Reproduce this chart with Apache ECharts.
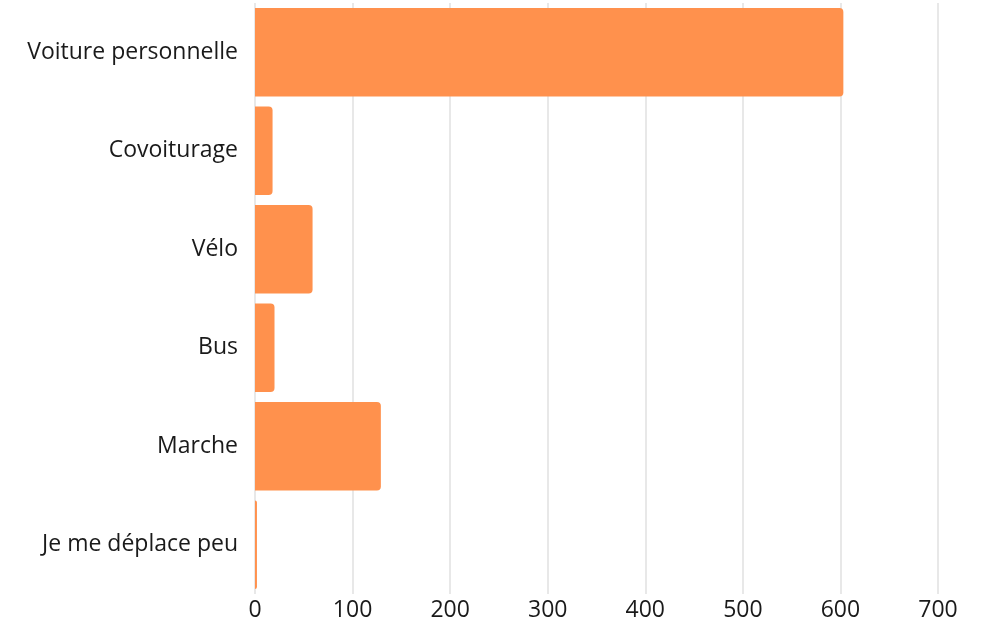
<!DOCTYPE html>
<html>
<head>
<meta charset="utf-8">
<script src="https://cdn.jsdelivr.net/npm/echarts@6/dist/echarts.min.js"></script>
<style>
  html, body { margin: 0; padding: 0; background: #fff; }
  #chart { width: 981px; height: 625px; }
</style>
</head>
<body>
<div id="chart"></div>
<script>
// modes de déplacement
var categories = ['Voiture personnelle', 'Covoiturage', 'Vélo', 'Bus', 'Marche', 'Je me déplace peu']
var values = [603, 18, 59, 20, 129, 2]
var xTicks = [0, 100, 200, 300, 400, 500, 600, 700]

var chartDom = echarts.init(document.getElementById('chart'))
chartDom.setOption({
  animation: false,
  color: ['#FF914D'],
  textStyle: { fontFamily: 'Open Sans' },
  grid: {
    left: 255,
    right: 43,
    top: 3,
    bottom: 31
  },
  xAxis: {
    type: 'value',
    min: xTicks[0],
    max: xTicks[xTicks.length - 1],
    interval: 100,
    axisLine: { show: false },
    axisTick: { show: false },
    splitLine: { lineStyle: { color: '#e0e0e0', width: 1.5 } },
    axisLabel: { color: '#1a1a1a', fontSize: 23, margin: 5 }
  },
  yAxis: {
    type: 'category',
    data: categories,
    inverse: true,
    axisLine: { show: false },
    axisTick: { show: false },
    axisLabel: { color: '#1a1a1a', fontSize: 23, margin: 17 }
  },
  series: [
    {
      type: 'bar',
      data: values,
      barCategoryGap: '10%',
      itemStyle: { borderRadius: [0, 4, 4, 0] }
    }
  ]
})
</script>
</body>
</html>
